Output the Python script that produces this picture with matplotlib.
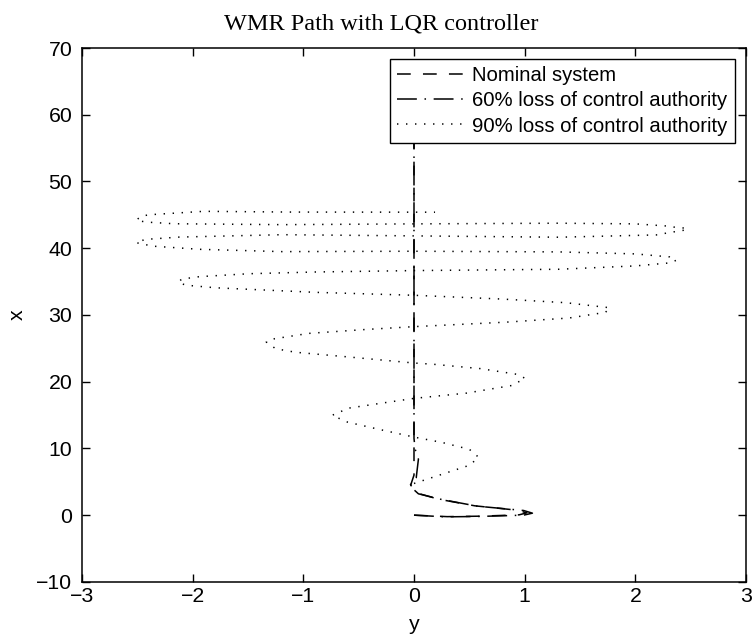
import matplotlib
matplotlib.use("Agg")
import matplotlib.pyplot as plt

# Lateral position y (horizontal) and longitudinal position x (vertical) of the WMR path
nominal_y = [0.00, 0.30, 0.60, 0.95, 1.02, 0.93, 0.55, 0.22, 0.03, -0.03, 0.00, 0.00]
nominal_x = [0.00, -0.22, -0.15, 0.05, 0.35, 0.75, 1.40, 2.40, 3.30, 4.50, 6.00, 62.0]

loss60_y = [0.00, 0.28, 0.57, 0.99, 1.07, 0.99, 0.57, 0.25, 0.04, -0.04, 0.02, 0.04, 0.01, 0.00, 0.00]
loss60_x = [0.00, -0.25, -0.20, 0.00, 0.30, 0.70, 1.35, 2.35, 3.20, 4.40, 5.60, 8.40, 9.90, 11.5, 58.0]

loss90_y = [0.00, 0.25, 0.50, 0.585, 0.50, 0.25, 0.00,
            -0.30, -0.60, -0.74, -0.59, -0.29, 0.00,
            0.47, 0.88, 1.005, 0.93, 0.60, 0.17, 0.00,
            -0.58, -1.07, -1.25, -1.335, -1.26, -0.95, -0.44, 0.00,
            0.83, 1.40, 1.73, 1.77, 1.37, 0.80, 0.00,
            -0.89, -1.79, -2.06, -2.13, -2.10, -1.94, -1.49, -0.89, 0.00,
            1.31, 2.00, 2.31, 2.37, 2.31, 2.00, 1.31, 0.00,
            -1.19, -1.94, -2.36, -2.51, -2.43, -2.12, -1.19, 0.00,
            1.31, 2.20, 2.29, 2.44, 2.47, 2.37, 2.31, 2.00, 1.30, 0.00,
            -1.19, -2.17, -2.43, -2.51, -2.46, -2.39, -1.90, -1.12, 0.19]
loss90_x = [4.75, 6.11, 7.47, 8.66, 9.87, 10.91, 11.70,
            12.80, 13.94, 14.96, 16.04, 16.79, 17.50,
            18.28, 19.42, 20.50, 21.11, 21.96, 22.62, 22.80,
            23.69, 24.41, 24.94, 25.95, 26.44, 27.24, 27.82, 28.25,
            28.92, 29.54, 30.39, 31.08, 31.84, 32.38, 32.95,
            33.39, 34.07, 34.46, 34.87, 35.37, 35.74, 36.18, 36.44, 36.65,
            36.85, 37.35, 37.80, 38.19, 38.70, 39.15, 39.45, 39.55,
            39.49, 39.84, 40.31, 40.83, 41.32, 41.67, 42.03, 41.85,
            41.65, 42.00, 42.30, 42.70, 43.00, 43.10, 43.30, 43.65, 43.75, 43.65,
            43.53, 43.67, 43.93, 44.23, 44.82, 45.02, 45.53, 45.42, 45.40]

series_labels = ["Nominal system",
                 "60% loss of control authority",
                 "90% loss of control authority"]

x_ticks = [-3, -2, -1, 0, 1, 2, 3]
y_ticks = [-10, 0, 10, 20, 30, 40, 50, 60, 70]

plt.rcParams["font.family"] = ["Liberation Sans", "DejaVu Sans"]

fig = plt.figure(figsize=(7.53, 6.37), dpi=100)
ax = fig.add_axes([0.1089, 0.0865, 0.9907 - 0.1089, 0.9246 - 0.0865])

ax.plot(nominal_y, nominal_x, color="black", lw=1.1,
        linestyle=(0, (9, 8)), label=series_labels[0])
ax.plot(loss60_y, loss60_x, color="black", lw=1.1,
        linestyle=(0, (13, 5, 1, 5)), label=series_labels[1])
ax.plot(loss90_y, loss90_x, color="black", lw=1.1,
        linestyle=(0, (0.9, 5.0)), label=series_labels[2])

ax.set_xlim(-3, 3)
ax.set_ylim(-10, 70)
ax.set_xticks(x_ticks)
ax.set_yticks(y_ticks)
ax.set_xticklabels(["\u22123", "\u22122", "\u22121", "0", "1", "2", "3"])
ax.set_yticklabels(["\u221210", "0", "10", "20", "30", "40", "50", "60", "70"])
ax.tick_params(direction="in", length=6, width=1.0, labelsize=15.3,
               top=True, right=True)
ax.tick_params(axis="x", pad=4)
ax.tick_params(axis="y", pad=7)
for sp in ax.spines.values():
    sp.set_linewidth(1.1)

ax.set_xlabel("y", fontsize=15.3, labelpad=6)
ax.set_ylabel("x", fontsize=15.3, labelpad=7)
ax.set_title("WMR Path with LQR controller", fontsize=17.5, x=0.45,
             family=["Liberation Serif", "DejaVu Serif"], pad=13)

leg = ax.legend(loc="upper right", bbox_to_anchor=(0.983, 0.979),
                borderaxespad=0, fontsize=14.6, fancybox=False,
                framealpha=1, edgecolor="black", handlelength=3.45,
                handletextpad=0.25, labelspacing=0.3, borderpad=0.35)
leg.get_frame().set_linewidth(1.0)

fig.savefig("out.png", dpi=100)
